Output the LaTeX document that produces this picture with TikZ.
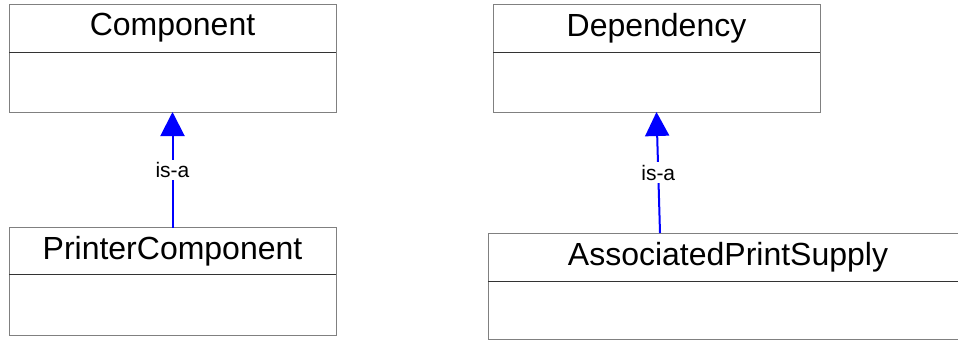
\documentclass[tikz,border=0pt]{standalone}
\usepackage{fontspec}
\setmainfont{Liberation Sans}
\usetikzlibrary{arrows.meta, positioning}
\definecolor{boxgray}{RGB}{128,128,128}
\tikzset{
    classhead/.style={
        rectangle,
        draw=boxgray,
        line width=1pt,
        outer sep=0pt,
        minimum height=48pt,
        font=\fontsize{32}{38}\selectfont
    },
    classbody/.style={
        rectangle,
        draw=boxgray,
        line width=1pt,
        outer sep=0pt,
        minimum height=60pt
    },
    divider/.style={
        draw=black!80,
        line width=1pt
    },
    descr/.style={
        fill=white,
        inner sep=2.5pt,
        font=\fontsize{21}{25}\selectfont
    },
    isa connector/.style={
        draw=blue,
        line width=2pt,
        -{Triangle[width=24pt,length=24pt]}
    }
}

\begin{document}
\begin{tikzpicture}[x=1pt,y=-1pt]
\useasboundingbox (0,0) rectangle (958,341);
\clip (0,0) rectangle (958,341);

% superclasses
\node[classhead, minimum width=327pt] (cmpHead) at (172.5,28) {Component};
\node[classbody, minimum width=327pt, below=0pt of cmpHead] (cmpBody) {};
\node[classhead, minimum width=327pt] (depHead) at (656.5,28) {Dependency};
\node[classbody, minimum width=327pt, below=0pt of depHead] (depBody) {};

% subclasses
\node[classhead, minimum width=327pt, minimum height=47pt] (prnHead) at (172.5,251) {PrinterComponent};
\node[classbody, minimum width=327pt, minimum height=61pt, below=0pt of prnHead] (prnBody) {};
\node[classhead, minimum width=480pt] (apsHead) at (728,257) {AssociatedPrintSupply};
\node[classbody, minimum width=480pt, minimum height=58pt, below=0pt of apsHead] (apsBody) {};
\coordinate (apsTop) at (660,233);

\foreach \c in {cmp,dep,prn,aps}
    \draw[divider] (\c Head.south west) -- (\c Head.south east);

\path [isa connector] (prnHead.north) -- node[descr] {is-a} (cmpBody.south);
\path [isa connector] (apsTop) -- node[descr] {is-a} (depBody.south);

\end{tikzpicture}
\end{document}
